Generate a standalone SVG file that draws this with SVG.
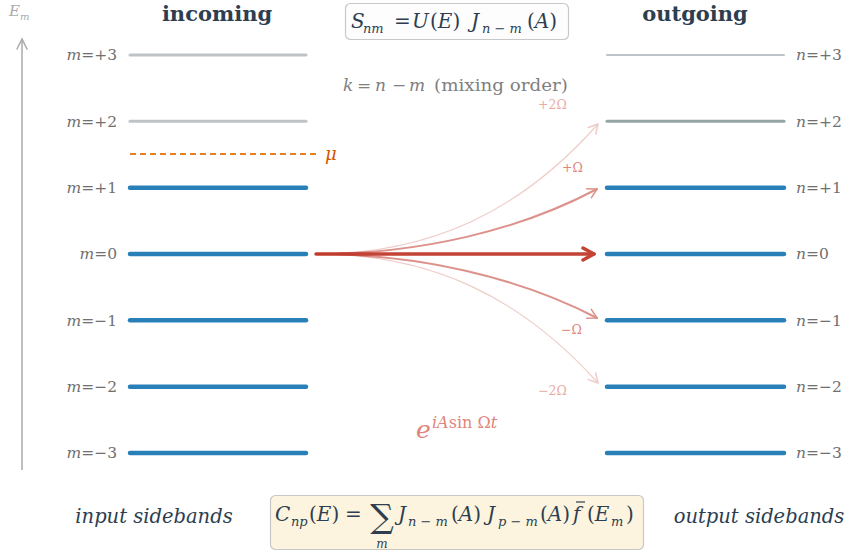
<svg xmlns="http://www.w3.org/2000/svg" width="848" height="552" viewBox="0 0 848 552">
<defs>
<style>
.math{font-family:"DejaVu Serif",serif;}
.it{font-style:italic;}
.lvl{font-family:"DejaVu Serif",serif;font-size:15.5px;fill:#707070;}
.title{font-family:"DejaVu Serif",serif;font-weight:bold;font-size:21px;fill:#2c3e50;text-anchor:middle;}
.side{font-family:"DejaVu Serif",serif;font-style:italic;font-size:19.5px;fill:#2c3e50;text-anchor:middle;}
.blue{stroke:#2980b9;stroke-width:4.5;stroke-linecap:round;}
.grey{stroke:#bdc3c7;stroke-width:3;stroke-linecap:round;}
.arr{fill:none;stroke:#c0392b;stroke-linecap:round;}
.lab{font-family:"DejaVu Serif",serif;font-size:12.5px;fill:#d9675a;}
</style>
<marker id="ah" markerUnits="userSpaceOnUse" markerWidth="20" markerHeight="20" orient="auto" overflow="visible">
<path d="M-9,-5 L0,0 L-9,5" fill="none" stroke="#c0392b" stroke-width="1.5" stroke-linecap="round" stroke-linejoin="round"/>
</marker>
<marker id="ahm" markerUnits="userSpaceOnUse" markerWidth="20" markerHeight="20" orient="auto" overflow="visible">
<path d="M-11,-6 L0,0 L-11,6" fill="none" stroke="#c0392b" stroke-width="3.5" stroke-linecap="round" stroke-linejoin="round"/>
</marker>
<marker id="axh" markerUnits="userSpaceOnUse" markerWidth="20" markerHeight="20" orient="auto" overflow="visible">
<path d="M-10,-5 L0,0 L-10,5" fill="none" stroke="#aaaaaa" stroke-width="1.5" stroke-linecap="round"/>
</marker>
</defs>
<rect width="848" height="552" fill="#ffffff"/>

<g id="axis">
<line x1="22" y1="470" x2="22" y2="39" stroke="#aaaaaa" stroke-width="1.5" marker-end="url(#axh)"/>
<text x="9" y="16" class="math" font-size="15" fill="#aaaaaa"><tspan class="it">E</tspan><tspan class="it" font-size="10" dy="4">m</tspan></text>
</g>

<g id="titles">
<text x="217" y="21" class="title">incoming</text>
<text x="695" y="21" class="title">outgoing</text>
</g>

<g id="formula-S">
<rect x="345.5" y="3.5" width="223" height="36" rx="5" fill="#fdfdfd" stroke="#c8c8c8" stroke-width="1.2"/>
<text class="math" font-size="20" fill="#2c3e50" y="28"><tspan x="351" class="it">S</tspan><tspan x="363" y="33" class="it" font-size="13">nm</tspan><tspan x="394" y="28">=</tspan><tspan x="412" class="it">U</tspan><tspan x="430">(</tspan><tspan class="it">E</tspan><tspan>)</tspan><tspan x="471" class="it">J</tspan><tspan x="482" y="33" font-size="13"><tspan class="it">n</tspan> − <tspan class="it">m</tspan></tspan><tspan x="527" y="28">(</tspan><tspan class="it">A</tspan><tspan>)</tspan></text>
</g>

<g id="mixing-label">
<text class="math" font-size="17" fill="#808080" y="91"><tspan x="343" class="it">k</tspan><tspan x="357">=</tspan><tspan x="375" class="it">n</tspan><tspan x="392">−</tspan><tspan x="409" class="it">m</tspan><tspan x="434" textLength="134" lengthAdjust="spacingAndGlyphs">(mixing order)</tspan></text>
</g>

<g id="incoming-levels">
<g id="in-p3"><line class="grey" x1="130" y1="55" x2="306" y2="55"/><text class="lvl" x="117" y="60" text-anchor="end"><tspan class="it">m</tspan>=+3</text></g>
<g id="in-p2"><line class="grey" x1="130" y1="121.3" x2="306" y2="121.3"/><text class="lvl" x="117" y="126.5" text-anchor="end"><tspan class="it">m</tspan>=+2</text></g>
<g id="in-p1"><line class="blue" x1="130" y1="187.7" x2="306" y2="187.7"/><text class="lvl" x="117" y="193" text-anchor="end"><tspan class="it">m</tspan>=+1</text></g>
<g id="in-0"><line class="blue" x1="130" y1="254" x2="306" y2="254"/><text class="lvl" x="117" y="259" text-anchor="end"><tspan class="it">m</tspan>=0</text></g>
<g id="in-m1"><line class="blue" x1="130" y1="320.3" x2="306" y2="320.3"/><text class="lvl" x="117" y="325.5" text-anchor="end"><tspan class="it">m</tspan>=−1</text></g>
<g id="in-m2"><line class="blue" x1="130" y1="386.7" x2="306" y2="386.7"/><text class="lvl" x="117" y="392" text-anchor="end"><tspan class="it">m</tspan>=−2</text></g>
<g id="in-m3"><line class="blue" x1="130" y1="453" x2="306" y2="453"/><text class="lvl" x="117" y="458" text-anchor="end"><tspan class="it">m</tspan>=−3</text></g>
</g>

<g id="mu">
<line x1="130" y1="154" x2="316" y2="154" stroke="#e67e22" stroke-width="1.8" stroke-dasharray="6,4"/>
<text x="325" y="160" class="math it" font-size="18" fill="#d35400">μ</text>
</g>

<g id="outgoing-levels">
<g id="out-p3"><line x1="607" y1="55" x2="784" y2="55" stroke="#bdc3c7" stroke-width="2" stroke-linecap="round"/><text class="lvl" x="796" y="60"><tspan class="it">n</tspan>=+3</text></g>
<g id="out-p2"><line x1="607" y1="121.3" x2="784" y2="121.3" stroke="#95a5a6" stroke-width="3" stroke-linecap="round"/><text class="lvl" x="796" y="126.5"><tspan class="it">n</tspan>=+2</text></g>
<g id="out-p1"><line class="blue" x1="607" y1="187.7" x2="784" y2="187.7"/><text class="lvl" x="796" y="193"><tspan class="it">n</tspan>=+1</text></g>
<g id="out-0"><line class="blue" x1="607" y1="254" x2="784" y2="254"/><text class="lvl" x="796" y="259"><tspan class="it">n</tspan>=0</text></g>
<g id="out-m1"><line class="blue" x1="607" y1="320.3" x2="784" y2="320.3"/><text class="lvl" x="796" y="325.5"><tspan class="it">n</tspan>=−1</text></g>
<g id="out-m2"><line class="blue" x1="607" y1="386.7" x2="784" y2="386.7"/><text class="lvl" x="796" y="392"><tspan class="it">n</tspan>=−2</text></g>
<g id="out-m3"><line class="blue" x1="607" y1="453" x2="784" y2="453"/><text class="lvl" x="796" y="458"><tspan class="it">n</tspan>=−3</text></g>
</g>

<g id="connectors">
<path class="arr" d="M316,254 C430,254 520,212 598,124" stroke-width="1.2" opacity="0.25" marker-end="url(#ah)"/>
<path class="arr" d="M316,254 C420,254 520,230 597,189" stroke-width="2" opacity="0.55" marker-end="url(#ah)"/>
<path class="arr" d="M316,254 C420,254 520,278 597,318" stroke-width="2" opacity="0.55" marker-end="url(#ah)"/>
<path class="arr" d="M316,254 C430,254 520,296 598,383" stroke-width="1.2" opacity="0.25" marker-end="url(#ah)"/>
<path class="arr" d="M316,254 L594,254" stroke-width="3.5" opacity="0.95" marker-end="url(#ahm)"/>
</g>

<g id="arrow-labels">
<text class="lab" x="538" y="109" opacity="0.55">+2Ω</text>
<text class="lab" x="562" y="172" opacity="0.8">+Ω</text>
<text class="lab" x="561" y="334" opacity="0.8">−Ω</text>
<text class="lab" x="538" y="395" opacity="0.55">−2Ω</text>
<text class="math" fill="#d9675a" opacity="0.8" y="438"><tspan x="416" class="it" font-size="25">e</tspan><tspan x="432" y="428" font-size="16"><tspan class="it">iA</tspan><tspan>sin</tspan><tspan> Ω</tspan><tspan class="it">t</tspan></tspan></text>
</g>

<g id="side-labels">
<text x="154" y="523" class="side">input sidebands</text>
<text x="759" y="523" class="side">output sidebands</text>
</g>

<g id="formula-C">
<rect x="270.5" y="495.5" width="373" height="54" rx="5" fill="#fcf4de" stroke="#c8c8c8" stroke-width="1.2"/>
<text class="math" font-size="20" fill="#2c3e50" y="521"><tspan x="275" class="it">C</tspan><tspan x="291" y="526" class="it" font-size="13">np</tspan><tspan x="309" y="521">(</tspan><tspan class="it">E</tspan><tspan>)</tspan><tspan x="345">=</tspan><tspan x="398" class="it">J</tspan><tspan x="408" y="526" font-size="13"><tspan class="it">n</tspan> − <tspan class="it">m</tspan></tspan><tspan x="451" y="521">(</tspan><tspan class="it">A</tspan><tspan>)</tspan><tspan x="487" class="it">J</tspan><tspan x="498" y="526" font-size="13"><tspan class="it">p</tspan> − <tspan class="it">m</tspan></tspan><tspan x="540" y="521">(</tspan><tspan class="it">A</tspan><tspan>)</tspan><tspan x="573" class="it">f</tspan><tspan x="587">(</tspan><tspan class="it">E</tspan><tspan x="611" y="526" class="it" font-size="13">m</tspan><tspan x="626" y="521">)</tspan></text>
<text class="math" x="382" y="528" font-size="33" fill="#2c3e50" text-anchor="middle">∑</text>
<text class="math it" x="382" y="548" font-size="12" fill="#2c3e50" text-anchor="middle">m</text>
<line x1="576" y1="502" x2="585" y2="502" stroke="#2c3e50" stroke-width="1.2"/>
</g>
</svg>
